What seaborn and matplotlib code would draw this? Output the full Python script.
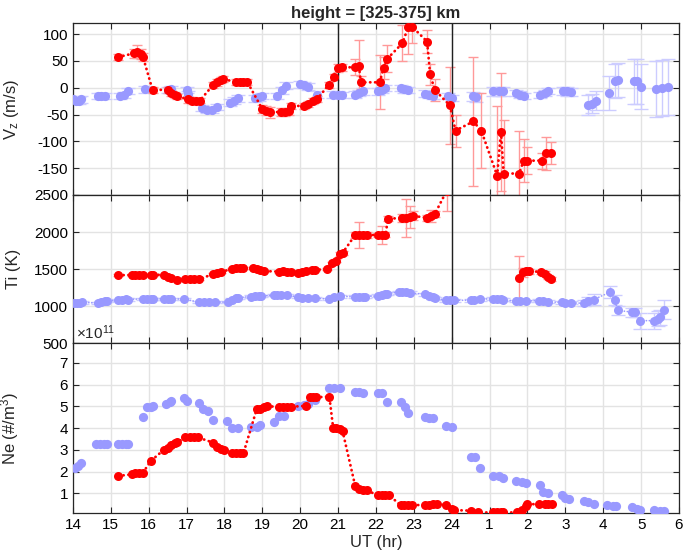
import numpy as np
import pandas as pd
import matplotlib
matplotlib.use("Agg")
import matplotlib.pyplot as plt
import seaborn as sns

# ---------------- data ----------------
# UT hours continue past midnight as 24 + h
ut_ticks = list(range(14, 31))
ut_tick_labels = ["14", "15", "16", "17", "18", "19", "20", "21", "22", "23",
                  "24", "1", "2", "3", "4", "5", "6"]
event_hours = [21, 24]

# Vertical drift, event day
vz_red_t = [15.2, 15.6, 15.7, 15.8, 15.85, 16.1, 16.5, 16.6, 16.7, 16.75,
            17.05, 17.15, 17.25, 17.35, 17.7, 17.8, 17.9, 17.95, 18.3, 18.4,
            18.5, 18.6, 19.0, 19.1, 19.2, 19.5, 19.6, 19.7, 19.75, 20.1,
            20.2, 20.35, 20.45, 20.75, 20.9, 21.0, 21.1, 21.45, 21.55, 21.6,
            22.1, 22.2, 22.3, 22.7, 22.85, 22.95, 23.35, 23.43, 23.55, 23.95,
            24.1, 24.57, 24.78, 25.2, 25.3, 25.37, 25.78, 25.9, 26.0, 26.38,
            26.5, 26.62]
vz_red = [57, 64, 67, 63, 57, -4, -4, -10, -14, -16,
          -22, -24, -24, -24, 5, 10, 14, 16, 11, 11,
          11, 11, -40, -43, -46, -45, -45, -44, -34, -34,
          -30, -25, -21, 5, 20, 37, 38, 38, 40, 10,
          10, 37, 54, 83, 113, 114, 86, 25, -4, -33,
          -80, -63, -80, -164, -82, -160, -160, -136, -136, -136,
          -122, -122]
vz_red_err = [6, 8, 12, 10, 8, 5, 5, 5, 6, 5,
              6, 6, 5, 5, 6, 6, 6, 6, 6, 6,
              6, 6, 8, 8, 10, 8, 8, 6, 6, 6,
              6, 6, 6, 6, 6, 8, 6, 15, 48, 12,
              50, 20, 25, 34, 50, 30, 22, 20, 20, 72,
              30, 120, 70, 130, 110, 100, 80, 40, 25, 15,
              31, 20]

# Vertical drift, reference (quiet) curve
vz_blue_t = [14.0, 14.08, 14.15, 14.22, 14.65, 14.75, 14.85, 15.25, 15.35, 15.45,
             15.9, 16.5, 16.6, 17.0, 17.05, 17.4, 17.53, 17.66, 17.8, 18.15,
             18.25, 18.35, 18.8, 18.9, 19.0, 19.4, 19.52, 19.62, 20.0, 20.1,
             20.2, 20.43, 20.87, 21.0, 21.1, 21.45, 21.55, 21.65, 22.05, 22.15,
             22.25, 22.65, 22.75, 22.85, 23.3, 23.4, 23.5, 23.9, 24.0, 24.55,
             24.65, 25.1, 25.25, 25.35, 25.7, 25.8, 25.9, 26.33, 26.45, 26.55,
             26.95, 27.05, 27.15, 27.6, 27.7, 27.8, 28.15, 28.3, 28.4, 28.8,
             28.9, 29.0, 29.4, 29.55, 29.7]
vz_blue = [-22, -24, -24, -22, -16, -16, -16, -16, -14, -6,
           -3, -4, -2, -4, -12, -38, -42, -42, -36, -28,
           -24, -20, -20, -18, -16, -16, -5, 4, 6, 5,
           2, -13, -13, -13, -14, -13, -10, -7, -7, -4,
           -1, -1, -3, -4, -11, -14, -16, -16, -19, -16,
           -18, -7, -7, -7, -10, -13, -15, -14, -10, -6,
           -6, -7, -8, -32, -30, -24, -10, 12, 14, 12,
           12, 2, -2, 0, 1]
vz_blue_err = [6, 6, 6, 6, 6, 6, 6, 6, 6, 6,
               6, 6, 6, 6, 6, 6, 6, 6, 6, 6,
               6, 6, 6, 6, 6, 6, 6, 6, 6, 6,
               6, 6, 6, 6, 6, 6, 6, 6, 6, 6,
               6, 6, 6, 6, 6, 6, 6, 6, 6, 8,
               8, 8, 8, 8, 6, 6, 6, 6, 6, 6,
               8, 8, 8, 18, 18, 18, 32, 32, 32, 42,
               42, 42, 52, 52, 52]

# Ion temperature, event day
ti_red_t = [15.2, 15.55, 15.65, 15.75, 15.85, 16.05, 16.1, 16.4, 16.5, 16.6,
            16.75, 16.97, 17.1, 17.2, 17.33, 17.7, 17.8, 17.9, 18.2, 18.3,
            18.4, 18.5, 18.75, 18.85, 18.95, 19.05, 19.45, 19.55, 19.65, 19.75,
            19.95, 20.05, 20.15, 20.3, 20.4, 20.7, 20.85, 20.95, 21.05, 21.12,
            21.45, 21.55, 21.65, 21.75, 22.05, 22.15, 22.25, 22.32, 22.7, 22.8,
            22.9, 22.98, 23.35, 23.45, 23.55, 23.87,
            25.78, 25.88, 25.97, 26.05, 26.37, 26.47, 26.55, 26.63]
ti_red = [1419, 1420, 1420, 1420, 1420, 1420, 1420, 1425, 1400, 1375,
          1360, 1365, 1365, 1365, 1368, 1430, 1445, 1460, 1505, 1515,
          1520, 1520, 1520, 1505, 1490, 1475, 1465, 1470, 1465, 1460,
          1445, 1460, 1480, 1495, 1490, 1500, 1580, 1610, 1700, 1720,
          1960, 1960, 1960, 1960, 1960, 1960, 1965, 2180, 2190, 2190,
          2200, 2220, 2190, 2215, 2240, 2560,
          1386, 1455, 1478, 1470, 1464, 1440, 1396, 1364]
ti_red_err = [15, 15, 15, 15, 15, 15, 15, 15, 15, 15,
              15, 15, 15, 15, 15, 15, 15, 15, 15, 15,
              15, 15, 15, 15, 15, 15, 15, 15, 15, 15,
              15, 15, 15, 15, 15, 15, 20, 20, 25, 25,
              40, 170, 40, 40, 30, 120, 30, 30, 60, 250,
              150, 60, 40, 80, 40, 270,
              290, 60, 40, 30, 30, 30, 30, 30]

# Ion temperature, reference curve
ti_blue_t = [14.02, 14.1, 14.18, 14.25, 14.65, 14.75, 14.85, 14.9, 15.2, 15.3,
             15.4, 15.45, 15.85, 15.95, 16.05, 16.1, 16.4, 16.5, 16.6, 16.93,
             17.33, 17.45, 17.6, 17.75, 18.1, 18.2, 18.3, 18.35, 18.7, 18.8,
             18.9, 18.97, 19.3, 19.4, 19.5, 19.65, 19.95, 20.05, 20.2, 20.4,
             20.75, 20.9, 21.05, 21.45, 21.55, 21.65, 21.7, 22.05, 22.15, 22.25,
             22.3, 22.6, 22.7, 22.8, 22.9, 23.3, 23.4, 23.5, 23.55, 23.85,
             23.95, 24.05, 24.5, 24.6, 24.75, 25.1, 25.2, 25.3, 25.35, 25.7,
             25.8, 25.95, 26.3, 26.4, 26.55, 26.9, 27.0, 27.15, 27.5, 27.6,
             27.75, 28.18, 28.31, 28.38, 28.75, 28.85, 28.98, 29.35, 29.45, 29.5,
             29.6]
ti_blue = [1045, 1045, 1048, 1050, 1045, 1060, 1075, 1075, 1080, 1090,
           1095, 1090, 1100, 1100, 1100, 1100, 1100, 1100, 1100, 1095,
           1055, 1055, 1055, 1055, 1055, 1090, 1110, 1115, 1130, 1135,
           1135, 1135, 1150, 1155, 1155, 1155, 1120, 1115, 1105, 1105,
           1100, 1130, 1135, 1125, 1130, 1130, 1130, 1140, 1150, 1165,
           1170, 1190, 1190, 1185, 1180, 1160, 1140, 1120, 1110, 1080,
           1080, 1080, 1080, 1085, 1095, 1100, 1100, 1095, 1085, 1070,
           1070, 1070, 1075, 1070, 1060, 1050, 1045, 1045, 1040, 1070,
           1090, 1190, 1080, 945, 920, 920, 805, 805, 830, 850,
           955]
ti_blue_err = [15, 15, 15, 15, 15, 15, 15, 15, 15, 15,
               15, 15, 15, 15, 15, 15, 15, 15, 15, 15,
               15, 15, 15, 15, 15, 15, 15, 15, 15, 15,
               15, 15, 15, 15, 15, 15, 15, 15, 15, 15,
               15, 15, 20, 20, 20, 20, 20, 20, 20, 20,
               20, 20, 20, 20, 20, 20, 20, 20, 20, 20,
               20, 20, 20, 20, 20, 20, 20, 20, 20, 20,
               20, 20, 20, 20, 20, 20, 20, 20, 40, 60,
               70, 80, 70, 60, 60, 60, 110, 110, 100, 100,
               130]

# Electron density (x 1e11 m^-3), event day
ne_red_t = [15.2, 15.55, 15.65, 15.75, 15.85, 16.05, 16.4, 16.5, 16.6, 16.7,
            16.75, 16.97, 17.1, 17.2, 17.3, 17.7, 17.8, 17.9, 17.98, 18.2,
            18.3, 18.4, 18.5, 18.85, 18.95, 19.05, 19.12, 19.45, 19.55, 19.65,
            19.75, 20.15, 20.25, 20.35, 20.42, 20.77, 20.87, 20.95, 21.05, 21.12,
            21.45, 21.55, 21.65, 21.75, 22.05, 22.15, 22.25, 22.35, 22.65, 22.75,
            22.85, 22.95, 23.3, 23.4, 23.5, 23.6, 23.85, 24.0, 24.05, 24.5,
            24.7, 25.1, 25.2, 25.3, 25.35, 25.72, 25.85, 25.95, 26.0, 26.3,
            26.45, 26.55, 26.65]
ne_red = [1.8, 1.87, 1.92, 1.95, 1.95, 2.48, 3.0, 3.07, 3.2, 3.3,
          3.35, 3.57, 3.57, 3.57, 3.57, 3.33, 3.15, 3.05, 3.0, 2.84,
          2.84, 2.84, 2.84, 4.86, 4.88, 4.95, 5.0, 4.98, 4.98, 4.98,
          4.98, 5.02, 5.44, 5.44, 5.42, 5.44, 4.0, 4.0, 3.95, 3.85,
          1.35, 1.2, 1.15, 1.15, 0.9, 0.9, 0.9, 0.9, 0.46, 0.46,
          0.46, 0.46, 0.46, 0.48, 0.5, 0.5, 0.46, 0.3, 0.23, 0.2,
          0.12, 0.12, 0.12, 0.12, 0.12, 0.12, 0.25, 0.4, 0.5, 0.5,
          0.5, 0.5, 0.5]

# Electron density, reference curve
ne_blue_t = [14.05, 14.12, 14.2, 14.62, 14.72, 14.82, 14.9, 15.2, 15.3, 15.4,
             15.45, 15.85, 15.95, 16.05, 16.1, 16.45, 16.55, 16.6, 16.93, 17.0,
             17.33, 17.42, 17.57, 17.7, 18.07, 18.2, 18.35, 18.7, 18.85, 18.95,
             19.3, 19.45, 19.58, 19.95, 20.1, 20.2, 20.4, 20.75, 20.9, 21.05,
             21.45, 21.55, 21.65, 22.05, 22.15, 22.3, 22.65, 22.77, 22.85, 23.3,
             23.4, 23.5, 23.85, 24.0, 24.5, 24.62, 24.75, 25.1, 25.25, 25.35,
             25.7, 25.85, 25.97, 26.33, 26.42, 26.55, 26.9, 27.0, 27.1, 27.5,
             27.6, 27.75, 28.1, 28.25, 28.35, 28.75, 28.9, 28.98, 29.35, 29.5,
             29.6]
ne_blue = [2.15, 2.25, 2.4, 3.26, 3.26, 3.26, 3.26, 3.26, 3.26, 3.26,
           3.26, 4.49, 4.95, 4.98, 5.02, 5.13, 5.18, 5.25, 5.4, 5.25,
           5.16, 4.9, 4.78, 4.37, 4.32, 4.0, 4.0, 4.03, 4.05, 4.15,
           4.3, 4.55, 4.55, 5.0, 5.07, 5.13, 5.28, 5.82, 5.82, 5.82,
           5.67, 5.67, 5.6, 5.6, 5.6, 5.2, 5.2, 4.98, 4.7, 4.52,
           4.47, 4.45, 4.1, 4.03, 2.65, 2.65, 2.18, 1.8, 1.8, 1.69,
           1.56, 1.5, 1.49, 1.38, 1.07, 1.0, 0.92, 0.8, 0.72, 0.66,
           0.58, 0.5, 0.46, 0.42, 0.4, 0.38, 0.28, 0.23, 0.23, 0.17,
           0.17]

# ---------------- style ----------------
RED = (1.0, 0.0, 0.0)
RED_ERR = (1.0, 0.6, 0.6)
BLUE = (0.6, 0.6, 1.0)
BLUE_ERR = (0.8, 0.8, 1.0)
DOTS = (0, (0.1, 1.7))  # round-capped dot pattern

sns.set_style("ticks")
plt.rcParams.update({
    "font.family": ["Liberation Sans", "DejaVu Sans"],
    "mathtext.fontset": "custom",
    "mathtext.rm": "Liberation Sans",
    "mathtext.it": "Liberation Sans",
    "xtick.direction": "in",
    "ytick.direction": "in",
    "xtick.top": True,
    "ytick.right": True,
    "xtick.major.size": 4,
    "ytick.major.size": 4,
    "xtick.major.width": 0.8,
    "ytick.major.width": 0.8,
    "xtick.color": "#262626",
    "ytick.color": "#262626",
    "xtick.labelcolor": "black",
    "ytick.labelcolor": "black",
    "xtick.labelsize": 11,
    "ytick.labelsize": 11,
    "axes.edgecolor": "#262626",
    "axes.linewidth": 0.9,
})


def frame(df_t, df_v, err=None):
    d = pd.DataFrame({"t": df_t, "v": df_v})
    if err is not None:
        d["e"] = err
    # break the trace where the sampling gap exceeds one hour
    d["seg"] = (d["t"].diff() > 1.0).cumsum()
    return d


def draw_series(ax, d, color, ecolor, capsize, line=True, lw=2.0):
    if "e" in d:
        ax.errorbar(d["t"], d["v"], yerr=d["e"], fmt="none", ecolor=ecolor,
                    elinewidth=1.0, capsize=capsize, capthick=1.0, zorder=2)
    if line:
        sns.lineplot(data=d, x="t", y="v", units="seg", estimator=None, sort=False,
                     color=color, linestyle=DOTS, linewidth=lw, marker="o",
                     markersize=6.5, markeredgewidth=0, dash_capstyle="round",
                     ax=ax, zorder=3, legend=False)
    else:
        sns.scatterplot(data=d, x="t", y="v", color=color, s=44, linewidth=0,
                        ax=ax, zorder=3, legend=False)


fig = plt.figure(figsize=(6.91, 5.56), dpi=100)
left, width = 0.1056, 0.8770
ax_vz = fig.add_axes([left, 0.6493, width, 0.3088])
ax_ti = fig.add_axes([left, 0.3826, width, 0.2667])
ax_ne = fig.add_axes([left, 0.0768, width, 0.3058])

# --- Vz ---
draw_series(ax_vz, frame(vz_blue_t, vz_blue, vz_blue_err), BLUE, BLUE_ERR, 5, line=False)
draw_series(ax_vz, frame(vz_red_t, vz_red, vz_red_err), RED, RED_ERR, 3.6)
ax_vz.set_ylim(-200, 120)
ax_vz.set_yticks([-200, -150, -100, -50, 0, 50, 100])
ax_vz.set_yticklabels(["", "-150", "-100", "-50", "0", "50", "100"])
ax_vz.set_ylabel("V$_\\mathrm{z}$ (m/s)", fontsize=12)

# --- Ti ---
draw_series(ax_ti, frame(ti_blue_t, ti_blue, ti_blue_err), BLUE, BLUE_ERR, 5,
            line=True, lw=1.2)
draw_series(ax_ti, frame(ti_red_t, ti_red, ti_red_err), RED, RED_ERR, 3.6)
ax_ti.set_ylim(500, 2500)
ax_ti.set_yticks([500, 1000, 1500, 2000, 2500])
ax_ti.set_ylabel("Ti (K)", fontsize=12)

# --- Ne ---
draw_series(ax_ne, frame(ne_blue_t, ne_blue), BLUE, BLUE_ERR, 5, line=False)
draw_series(ax_ne, frame(ne_red_t, ne_red), RED, RED_ERR, 3.6)
ax_ne.set_ylim(0.08, 7.9)
ax_ne.set_yticks([1, 2, 3, 4, 5, 6, 7])
ax_ne.set_ylabel("Ne (#/m$^3$)", fontsize=12)
ax_ne.text(0.005, 1.005, "\u00d710$^{11}$", transform=ax_ne.transAxes,
           ha="left", va="bottom", fontsize=11)

for ax in (ax_vz, ax_ti, ax_ne):
    ax.set_xlim(ut_ticks[0], ut_ticks[-1])
    ax.set_xticks(ut_ticks)
    ax.grid(True, color="#e3e3e3", linewidth=1.0, zorder=0)
    ax.set_axisbelow(True)
    ax.set_xlabel("")
    for side in ("top", "right"):
        ax.spines[side].set_visible(True)

for ax in (ax_vz, ax_ti):
    ax.set_xticklabels([])
    for h in event_hours:
        ax.axvline(h, color="#202020", linewidth=1.0, zorder=2.5)

ax_ne.set_xticklabels(ut_tick_labels)
ax_ne.set_xlabel("UT (hr)", fontsize=12, labelpad=2)

ax_vz.set_title("height = [325-375] km", fontsize=12, fontweight="bold", pad=4)

for ax in (ax_vz, ax_ti, ax_ne):
    ax.yaxis.set_label_coords(-0.085, 0.5)

fig.savefig("out.png", dpi=100)
